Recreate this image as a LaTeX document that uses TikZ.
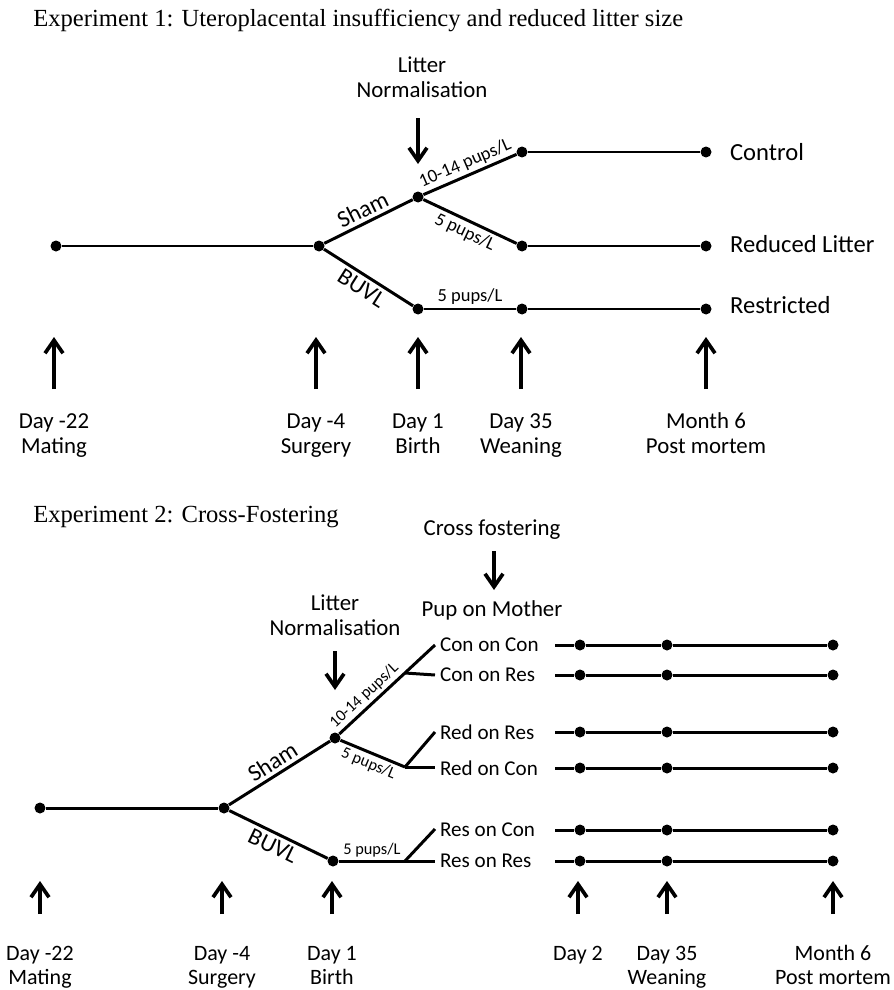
\documentclass[tikz,border=0pt]{standalone}
\usepackage{fontspec}
\setmainfont{Carlito}
\newfontfamily\titlefont{Liberation Serif}
\usetikzlibrary{arrows.meta}

\tikzset{
  dot/.style={circle, fill, inner sep=0pt, minimum size=0.22cm},
  branch/.style={line width=1.7pt},
  timearrow/.style={line width=2.1pt, -{Straight Barb[length=2.6mm,width=3.6mm]}},
  lbl/.style={font=\fontsize{13}{14.2}\selectfont, align=center, inner sep=1pt},
  grp/.style={font=\fontsize{14}{16}\selectfont, anchor=west, inner sep=1pt},
  pupl/.style={font=\fontsize{12}{14}\selectfont, anchor=west, inner sep=1pt},
  small/.style={font=\fontsize{10.5}{12}\selectfont, inner sep=1.5pt},
  smaller/.style={font=\fontsize{9.3}{11}\selectfont, inner sep=1.5pt},
  arm/.style={font=\fontsize{13.5}{15}\selectfont, inner sep=2pt},
  ttl/.style={font=\titlefont\fontsize{14}{16}\selectfont, anchor=base west, inner sep=0pt},
}

\begin{document}
\begin{tikzpicture}[x=0.02cm, y=-0.02cm]
    \useasboundingbox (0, 0) rectangle (893, 990);

    % Experiment 1
    \node[ttl] (title1) at (33, 27) {Experiment 1: Uteroplacental insufficiency and reduced litter size};

    \node[dot] (mate1) at (56, 246) {};
    \node[dot] (surg1) at (319, 246) {};
    \node[dot] (sham1) at (418, 197) {};
    \node[dot] (buvl1) at (418, 309) {};
    \node[dot] (con1) at (522, 152) {};
    \node[dot] (red1) at (522, 246) {};
    \node[dot] (res1) at (522, 309) {};
    \node[dot] (conend) at (706, 152) {};
    \node[dot] (redend) at (706, 246) {};
    \node[dot] (resend) at (706, 309) {};

    \draw [branch] (mate1) -- (surg1);
    \draw [branch] (surg1) -- node[arm, above, sloped] {Sham} (sham1);
    \draw [branch] (surg1) -- node[arm, below, sloped] {BUVL} (buvl1);
    \draw [branch] (sham1) -- node[small, above, sloped] {10-14 pups/L} (con1);
    \draw [branch] (sham1) -- node[small, below, sloped] {5 pups/L} (red1);
    \draw [branch] (buvl1) -- node[small, above] {5 pups/L} (res1);
    \draw [branch] (con1) -- (conend);
    \draw [branch] (red1) -- (redend);
    \draw [branch] (res1) -- (resend);

    \node[grp] (control) at (728, 152) {Control};
    \node[grp] (reduced) at (728, 244) {Reduced Litter};
    \node[grp] (restricted) at (728, 305) {Restricted};

    \node[lbl] (norm1) at (422, 77) {Litter\\Normalisation};
    \coordinate (norm1top) at (418, 118);
    \coordinate (norm1bot) at (418, 164);
    \draw [timearrow] (norm1top) -- (norm1bot);

    \foreach \x/\name/\one/\two in {54/day1a/Day -22/Mating, 316/day1b/Day -4/Surgery,
        418/day1c/Day 1/Birth, 521/day1d/Day 35/Weaning, 706/day1e/Month 6/Post mortem} {
        \coordinate (\name bot) at (\x, 389);
        \coordinate (\name top) at (\x, 337);
        \draw [timearrow] (\name bot) -- (\name top);
        \node[lbl] (\name) at (\x, 436) {\strut\one\\\strut\two};
    }

    % Experiment 2
    \node[ttl] (title2) at (33, 522) {Experiment 2: Cross-Fostering};

    \node[lbl] (cross) at (492, 530) {Cross fostering};
    \coordinate (crosstop) at (494, 551);
    \coordinate (crossbot) at (494, 590);
    \draw [timearrow] (crosstop) -- (crossbot);
    \node[lbl] (pup) at (492, 610) {Pup on Mother};

    \node[lbl] (norm2) at (335, 615) {Litter\\Normalisation};
    \coordinate (norm2top) at (335, 651);
    \coordinate (norm2bot) at (335, 690);
    \draw [timearrow] (norm2top) -- (norm2bot);

    \node[dot] (mate2) at (40, 808) {};
    \node[dot] (surg2) at (224, 808) {};
    \node[dot] (sham2) at (335, 738) {};
    \node[dot] (buvl2) at (333, 861) {};
    \coordinate (concon) at (435, 645);
    \coordinate (conres) at (435, 675);
    \coordinate (conjoin) at (405, 673);
    \coordinate (redres) at (435, 732);
    \coordinate (redcon) at (435, 767);
    \coordinate (redjoin) at (405, 767);
    \coordinate (rescon) at (435, 829);
    \coordinate (resres) at (435, 861);
    \coordinate (resjoin) at (405, 861);

    \draw [branch] (mate2) -- (surg2);
    \draw [branch] (surg2) -- node[arm, above, sloped] {Sham} (sham2);
    \draw [branch] (surg2) -- node[arm, below, sloped] {BUVL} (buvl2);
    \draw [branch] (sham2) -- node[smaller, above, sloped, pos=0.34] {10-14 pups/L} (concon);
    \draw [branch] (conjoin) -- (conres);
    \draw [branch] (sham2) -- node[smaller, below, sloped] {5 pups/L} (redjoin);
    \draw [branch] (redjoin) -- (redres);
    \draw [branch] (redjoin) -- (redcon);
    \draw [branch] (buvl2) -- node[smaller, above] {5 pups/L} (resjoin);
    \draw [branch] (resjoin) -- (rescon);
    \draw [branch] (resjoin) -- (resres);

    \foreach \y/\name/\txt in {645/cc/Con on Con, 675/cr/Con on Res, 732/rr/Red on Res,
        768/rc/Red on Con, 830/sc/Res on Con, 861/ss/Res on Res} {
        \node[pupl] (\name) at (438, \y) {\txt};
        \coordinate (\name start) at (555, \y);
        \node[dot] (\name a) at (580, \y) {};
        \node[dot] (\name b) at (667, \y) {};
        \node[dot] (\name c) at (833, \y) {};
        \draw [branch] (\name start) -- (\name a) -- (\name b) -- (\name c);
    }

    \foreach \x/\name/\one/\two in {40/day2a/Day -22/Mating, 222/day2b/Day -4/Surgery,
        332/day2c/Day 1/Birth, 578/day2d/Day 2/{}, 667/day2e/Day 35/Weaning,
        833/day2f/Month 6/Post mortem} {
        \coordinate (\name bot) at (\x, 914);
        \coordinate (\name top) at (\x, 881);
        \draw [timearrow] (\name bot) -- (\name top);
        \node[lbl, font=\fontsize{12.5}{13.6}\selectfont] (\name) at (\x, 968) {\strut\one\\\strut\two};
    }
\end{tikzpicture}
\end{document}
